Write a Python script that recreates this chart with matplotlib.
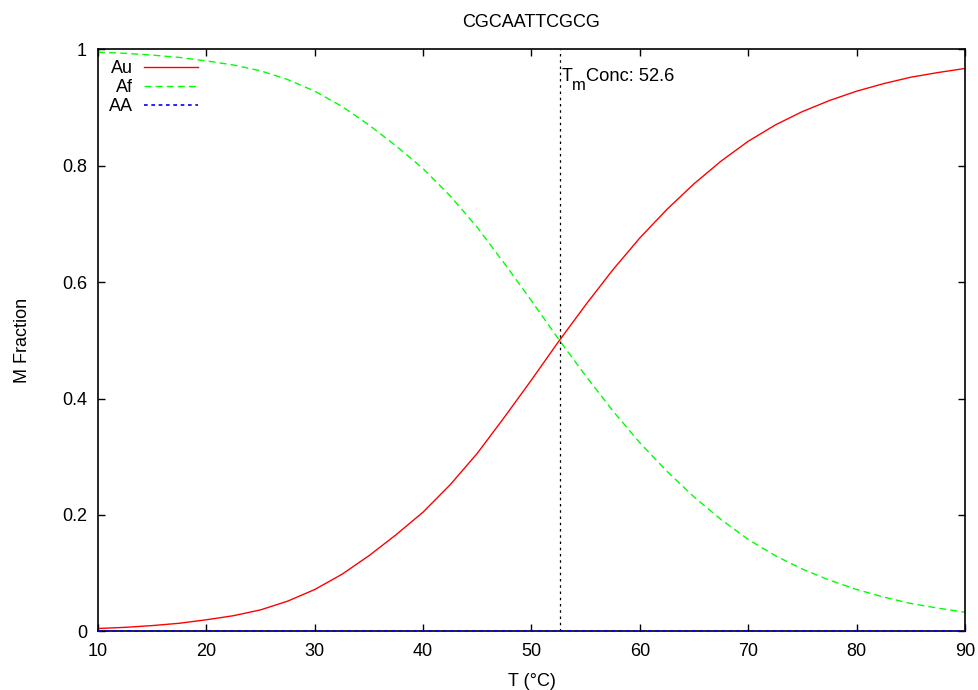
import numpy as np
from matplotlib import pyplot as plt

plt.rcParams['font.family'] = ['Liberation Sans', 'DejaVu Sans']

# Melting curve data (T in degC, fractions)
temps = [10, 12.5, 15, 17.5, 20, 22.5, 25, 27.5, 30, 32.5, 35, 37.5, 40, 42.5, 45,
         47.5, 50, 52.5, 55, 57.5, 60, 62.5, 65, 67.5, 70, 72.5, 75, 77.5, 80,
         82.5, 85, 87.5, 90]
au = [0.005, 0.007, 0.010, 0.014, 0.020, 0.027, 0.037, 0.052, 0.072, 0.098, 0.130,
      0.166, 0.205, 0.252, 0.306, 0.368, 0.432, 0.498, 0.561, 0.621, 0.676, 0.725,
      0.769, 0.808, 0.842, 0.870, 0.893, 0.912, 0.928, 0.941, 0.952, 0.960, 0.967]
af = [0.995, 0.993, 0.990, 0.986, 0.980, 0.973, 0.963, 0.948, 0.928, 0.902, 0.870,
      0.834, 0.795, 0.748, 0.694, 0.632, 0.568, 0.502, 0.439, 0.379, 0.324, 0.275,
      0.231, 0.192, 0.158, 0.130, 0.107, 0.088, 0.072, 0.059, 0.048, 0.040, 0.033]
aa = [0.0] * len(temps)
tm = 52.6

x_ticks = [10, 20, 30, 40, 50, 60, 70, 80, 90]
y_ticks = [0, 0.2, 0.4, 0.6, 0.8, 1]
y_tick_labels = ["0", "0.2", "0.4", "0.6", "0.8", "1"]

fs = 13

fig = plt.figure(figsize=(9.79, 6.90), dpi=100)
ax = fig.add_axes([0.1001, 0.0849, 0.8856, 0.8437])

ax.plot(temps, au, color='red', linestyle='-', linewidth=1.0, label='Au')
ax.plot(temps, af, color='#00ff00', linewidth=1.0, dashes=(5, 3), label='Af')
ax.plot(temps, aa, color='blue', linewidth=1.2, dashes=(2.2, 2.2), label='AA',
        clip_on=False, zorder=4)

# Tm marker and label (T, subscript m, rest on the same line as T)
ax.axvline(tm, color='black', linewidth=0.9, dashes=(2, 3))
t1 = ax.text(tm + 0.15, 0.953, "T", fontsize=fs, ha='left', va='center')
t2 = ax.annotate("m", xy=(1, 0.0), xycoords=t1, fontsize=fs * 0.92,
                 ha='left', va='center')
ax.annotate(f"Conc: {tm}", xy=(1, 0.5), xycoords=(t2, t1), fontsize=fs * 1.02,
            ha='left', va='center')

ax.set_xlim(10, 90)
ax.set_ylim(0, 1)
ax.set_xticks(x_ticks)
ax.set_yticks(y_ticks)
ax.set_yticklabels(y_tick_labels)
ax.tick_params(direction='in', top=True, right=True, length=5, width=1,
               labelsize=fs, pad=8)
for s in ax.spines.values():
    s.set_linewidth(1.2)

ax.set_title("CGCAATTCGCG", fontsize=fs, pad=16)
ax.set_xlabel("T (°C)", fontsize=fs, labelpad=10)
ax.set_ylabel("M Fraction", fontsize=fs, labelpad=22)

ax.legend(loc='upper left', frameon=False, markerfirst=False, fontsize=fs,
          handlelength=3.0, handletextpad=0.6, labelspacing=0.12,
          borderaxespad=0.2, bbox_to_anchor=(0.0, 1.0))

plt.savefig("out.png", dpi=100)
